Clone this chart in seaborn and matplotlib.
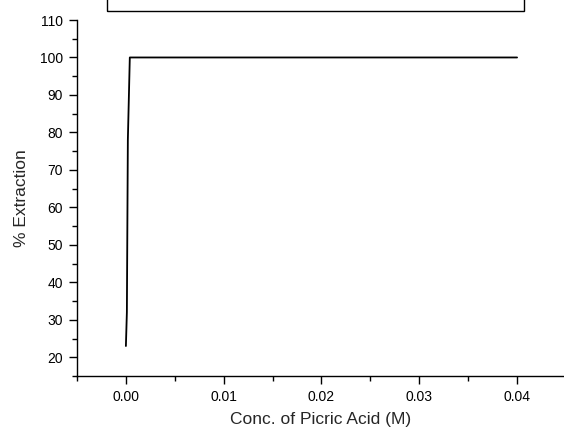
import numpy as np
import pandas as pd
import matplotlib
matplotlib.use("Agg")
import matplotlib.pyplot as plt
import seaborn as sns
from matplotlib.patches import Rectangle
from matplotlib.ticker import MultipleLocator

conc = [0.0, 0.0001, 0.0002, 0.0004, 0.001, 0.005, 0.01, 0.02, 0.03, 0.04]
extraction = [23, 32, 78, 100, 100, 100, 100, 100, 100, 100]

df = pd.DataFrame({"conc": conc, "ext": extraction})

sns.set_style("ticks")
plt.rcParams["font.family"] = ["Liberation Sans", "DejaVu Sans"]

fig = plt.figure(figsize=(5.64, 4.28), dpi=100)
ax = fig.add_axes([77 / 564, 1 - 376 / 428, 1 - 77 / 564, (376 - 20) / 428])

sns.lineplot(data=df, x="conc", y="ext", color="black", linewidth=1.3, ax=ax)

ax.set_xlim(-0.005, 0.0448)
ax.set_ylim(15, 110)
ax.xaxis.set_major_locator(MultipleLocator(0.01))
ax.xaxis.set_minor_locator(MultipleLocator(0.005))
ax.yaxis.set_major_locator(MultipleLocator(10))
ax.yaxis.set_minor_locator(MultipleLocator(5))
ax.set_yticks(np.arange(20, 111, 10))
ax.xaxis.set_major_formatter(plt.FuncFormatter(lambda v, p: f"{v:.2f}"))

ax.spines["top"].set_visible(False)
ax.spines["right"].set_visible(False)
for s in ["left", "bottom"]:
    ax.spines[s].set_linewidth(1.0)
    ax.spines[s].set_color("black")
ax.tick_params(which="major", direction="out", length=6, width=1.0,
               labelsize=10, colors="black", pad=4)
ax.tick_params(which="minor", direction="out", length=3.5, width=1.0, colors="black")

ax.set_xlabel("Conc. of Picric Acid (M)", fontsize=12.5, labelpad=6)
ax.set_ylabel("% Extraction", fontsize=12.5, labelpad=8)

# empty legend frame at the top
fig.patches.append(Rectangle((107 / 564, 1 - 11 / 428), (524 - 107) / 564, 0.05,
                             transform=fig.transFigure, fill=False,
                             edgecolor="black", linewidth=1.0, clip_on=False))

fig.savefig("out.png", dpi=100)
